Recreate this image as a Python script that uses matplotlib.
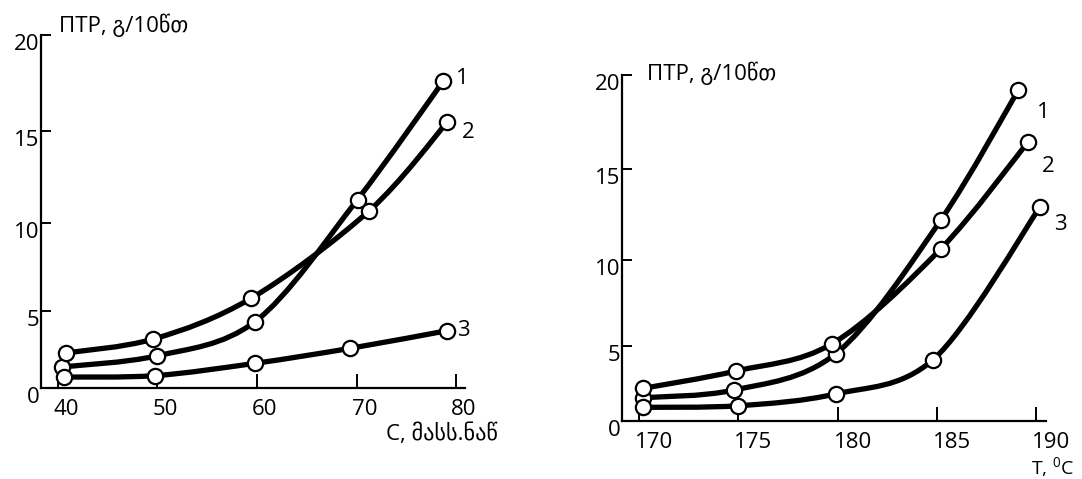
import matplotlib
matplotlib.use("Agg")
import matplotlib.pyplot as plt
import numpy as np
from matplotlib.path import Path
from matplotlib.patches import PathPatch
from matplotlib.transforms import ScaledTranslation

plt.rcParams['font.family'] = ['Open Sans', 'DejaVu Sans']
plt.rcParams['mathtext.fontset'] = 'custom'
plt.rcParams['mathtext.rm'] = 'Open Sans'

W, H = 1082, 479
FS = 16

# left panel: ПТР against concentration
conc_1 = [40.4, 50.0, 59.8, 70.1, 78.7]
ptr_conc_1 = [1.54, 2.27, 4.37, 11.3, 17.6]
conc_2 = [40.8, 49.6, 59.4, 71.3, 79.1]
ptr_conc_2 = [2.45, 3.32, 5.75, 10.7, 15.45]
conc_3 = [40.6, 49.75, 59.8, 69.35, 79.1]
ptr_conc_3 = [0.85, 0.95, 1.78, 2.74, 3.83]
conc_ticks = [40, 50, 60, 70, 80]

# right panel: ПТР against temperature
temp_1 = [170.2, 174.8, 179.9, 185.2, 189.1]
ptr_temp_1 = [1.72, 2.23, 4.5, 12.2, 19.2]
temp_2 = [170.2, 174.9, 179.7, 185.2, 189.6]
ptr_temp_2 = [2.34, 3.45, 5.1, 10.6, 16.46]
temp_3 = [170.2, 175.0, 179.9, 184.8, 190.2]
ptr_temp_3 = [1.06, 1.17, 1.97, 4.13, 12.94]
temp_ticks = [170, 175, 180, 185, 190]

ptr_ticks = [0, 5, 10, 15, 20]
curve_names = ['1', '2', '3']


def smooth_path(xs, ys):
    """Bezier path through the points (Catmull-Rom control points)."""
    p = np.column_stack([xs, ys]).astype(float)
    ext = np.vstack([p[0], p, p[-1]])
    verts = [p[0]]
    codes = [Path.MOVETO]
    for i in range(len(p) - 1):
        c1 = ext[i + 1] + (ext[i + 2] - ext[i]) / 6
        c2 = ext[i + 2] - (ext[i + 3] - ext[i + 1]) / 6
        verts += [c1, c2, ext[i + 2]]
        codes += [Path.CURVE4] * 3
    return Path(verts, codes)


def fwd(v):
    return np.sign(v) * np.abs(v) ** 1.1


def inv(v):
    return np.sign(v) * np.abs(v) ** (1 / 1.1)


def make_axes(fig, left, right, bottom, top):
    return fig.add_axes([left / W, 1 - bottom / H, (right - left) / W, (bottom - top) / H])


def style(ax, xlim, xticks, xshift):
    ax.set_yscale('function', functions=(fwd, inv))
    ax.set_ylim(0, 20)
    ax.set_xlim(*xlim)
    ax.set_xticks(xticks)
    ax.set_yticks(ptr_ticks)
    for s in ['top', 'right']:
        ax.spines[s].set_visible(False)
    for s in ['left', 'bottom']:
        ax.spines[s].set_linewidth(1.6)
    ax.tick_params(axis='x', direction='in', length=10, width=1.4, pad=8, labelsize=FS)
    ax.tick_params(axis='y', direction='in', length=7, width=1.4, pad=1, labelsize=FS)
    ax.patch.set_alpha(0)
    fig = ax.figure
    for lab in ax.get_xticklabels():
        lab.set_transform(lab.get_transform() + ScaledTranslation(xshift / 100, 0, fig.dpi_scale_trans))
    for lab in ax.get_yticklabels():
        lab.set_transform(lab.get_transform() + ScaledTranslation(0, -7 / 100, fig.dpi_scale_trans))


def draw_curves(ax, series):
    for xs, ys in series:
        ax.add_patch(PathPatch(smooth_path(xs, ys), facecolor='none', edgecolor='black',
                               lw=3.8, capstyle='round', zorder=2))
        ax.plot(xs, ys, 'o', ms=11, mfc='white', mec='black', mew=1.6, zorder=3, clip_on=False)


fig = plt.figure(figsize=(W / 100, H / 100), dpi=100)

ax1 = make_axes(fig, 41, 465, 388, 35)
style(ax1, (38.3, 80.9), conc_ticks, 8)
draw_curves(ax1, [(conc_1, ptr_conc_1), (conc_2, ptr_conc_2), (conc_3, ptr_conc_3)])

ax2 = make_axes(fig, 622, 1046, 421, 75)
style(ax2, (169.14, 190.5), temp_ticks, 15)
draw_curves(ax2, [(temp_1, ptr_temp_1), (temp_2, ptr_temp_2), (temp_3, ptr_temp_3)])


def px_text(x, y, s, size=FS, **kw):
    fig.text(x / W, 1 - y / H, s, fontsize=size, **kw)


px_text(59, 32, 'ПТР, გ/10წთ', va='baseline')
px_text(647, 80, 'ПТР, გ/10წთ', va='baseline')
px_text(386, 440, 'C, მასს.ნაწ', va='baseline')
px_text(1031, 474, r'T, $\mathregular{^0}$C', size=14, va='baseline')

for name, (x, y) in zip(curve_names, [(462, 78), (468, 132), (463, 330)]):
    px_text(x, y, name, ha='center', va='center')
for name, (x, y) in zip(curve_names, [(1043, 112), (1048, 166), (1060, 225)]):
    px_text(x, y, name, ha='center', va='center')

fig.savefig('out.png', dpi=100)
